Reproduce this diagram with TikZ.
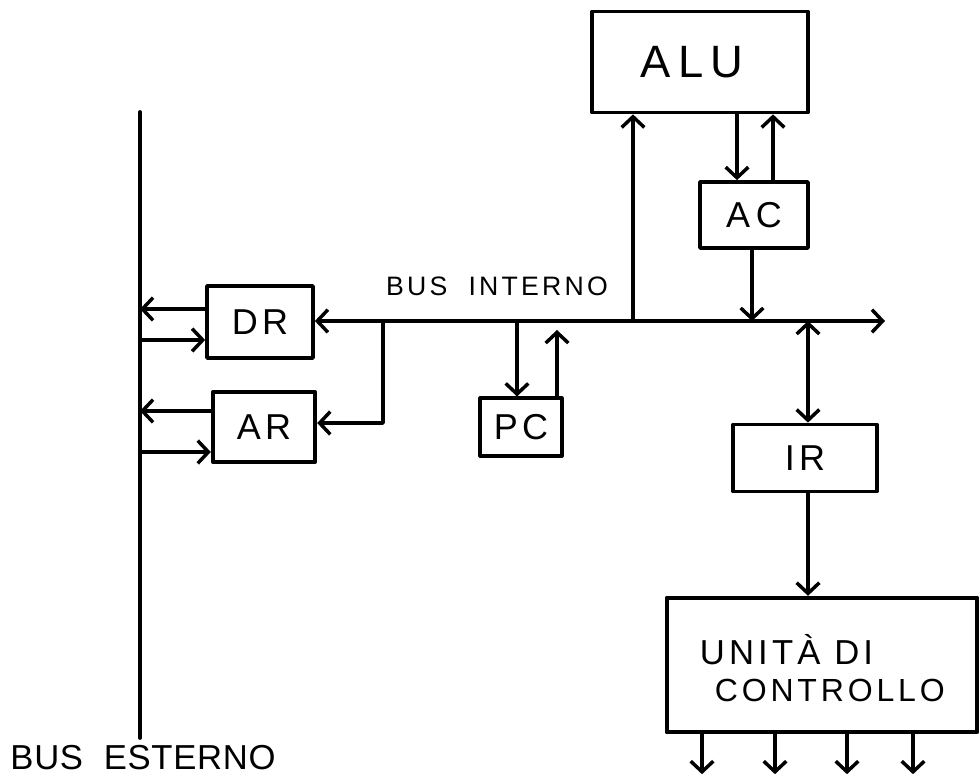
\documentclass[tikz,border=0pt]{standalone}
\usepackage{fontspec}
\setmainfont{Liberation Sans}
\newfontfamily\hand[LetterSpace=12]{Liberation Sans}
\newfontfamily\handn[LetterSpace=2]{Liberation Sans}
\usetikzlibrary{arrows.meta}
\begin{document}
\begin{tikzpicture}[x=0.75pt,y=-0.75pt,line width=2.8pt,line cap=round,line join=round,
  box/.style={draw,rectangle,inner sep=0pt,font=\hand\fontsize{27}{30}\selectfont},
  lbl/.style={inner sep=0pt,font=\hand\fontsize{22}{26}\selectfont},
  tip/.tip={Straight Barb[length=8pt,width=17pt,line width=2.6pt]},
  arr/.style={-tip},
  darr/.style={tip-tip}]
\useasboundingbox (0,0) rectangle (979,781);
% boxes
\node[box,minimum width=79.5pt,minimum height=54pt] (DR) at (260,322) {DR};
\node[box,minimum width=77pt,minimum height=52.5pt] (AR) at (264,427) {AR};
\node[box,minimum width=61pt,minimum height=43pt] (PC) at (521,427) {PC};
\node[box,minimum width=162pt,minimum height=75.75pt,font=\hand\fontsize{34}{36}\selectfont] (ALU) at (700,62) {A\,L\,U\hspace*{12pt}};
\node[box,minimum width=81pt,minimum height=49.5pt] (AC) at (754,215) {A\,C};
\node[box,minimum width=108pt,minimum height=50.25pt] (IR) at (805,458) {IR};
\node[box,minimum width=233pt,minimum height=101pt] (UC) at (822,665) {};
\node[lbl,anchor=west,font=\hand\fontsize{26}{28}\selectfont] (uc1) at (698,650) {UNITÀ DI};
\node[lbl,anchor=west,font=\hand\fontsize{24}{28}\selectfont] (uc2) at (713,690) {CONTROLLO};
% labels
\node[lbl,font=\hand\fontsize{20}{24}\selectfont] (bi) at (497,286) {BUS\ \ INTERNO};
\node[lbl,font=\handn\fontsize{26}{30}\selectfont] (be) at (143,758) {BUS\ \ ESTERNO};
% external bus
\coordinate (EBt) at (140,112);
\coordinate (EBb) at (140,738);
\draw (EBt) -- (EBb);
\draw[arr] (DR.west |- 0,309) -- (EBt |- 0,309);
\draw[arr] (EBt |- 0,340) -- (DR.west |- 0,340);
\draw[arr] (AR.west |- 0,411) -- (EBt |- 0,411);
\draw[arr] (EBt |- 0,452) -- (AR.west |- 0,452);
% internal bus
\coordinate (IBe) at (885,321);
\draw[darr] (DR.east |- IBe) -- (IBe);
\coordinate (br) at (383,321);
\coordinate (brk) at (383,423);
\draw[arr] (br) -- (brk) -- (AR.east |- brk);
% PC
\draw[arr] (517,0 |- IBe) -- (517,0 |- PC.north);
\draw[arr] (557,0 |- PC.north) -- (557,330);
% ALU / AC
\draw[arr] (633,0 |- IBe) -- (633,0 |- ALU.south);
\draw[arr] (737,0 |- ALU.south) -- (737,0 |- AC.north);
\draw[arr] (773,0 |- AC.north) -- (773,0 |- ALU.south);
\draw[arr] (752,0 |- AC.south) -- (752,0 |- IBe);
% IR / UC
\draw[darr] (808,0 |- IBe) -- (808,0 |- IR.north);
\draw[arr] (808,0 |- IR.south) -- (808,0 |- UC.north);
\foreach \xx in {702,775,847,913}
  \draw[arr] (\xx,0 |- UC.south) -- ++(0,40);
\end{tikzpicture}
\end{document}
